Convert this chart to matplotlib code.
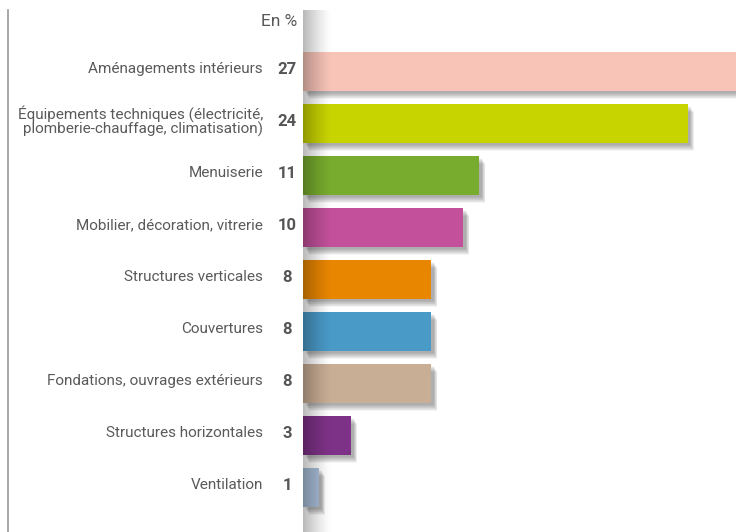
import matplotlib.pyplot as plt
import matplotlib.transforms as mtransforms
import numpy as np

plt.rcParams['font.family'] = ['Roboto', 'DejaVu Sans']

categories = ['Aménagements intérieurs',
              'Équipements techniques (électricité,\nplomberie-chauffage, climatisation)',
              'Menuiserie',
              'Mobilier, décoration, vitrerie',
              'Structures verticales',
              'Couvertures',
              'Fondations, ouvrages extérieurs',
              'Structures horizontales',
              'Ventilation']
values = [27, 24, 11, 10, 8, 8, 8, 3, 1]
colors = ['#F8C4B8', '#C8D400', '#78AC2E', '#C2509A', '#E88600',
          '#4A9AC8', '#C9AE96', '#7E3287', '#A8BED8']

W, H = 736, 532
fig = plt.figure(figsize=(W / 100, H / 100), dpi=100)
fig.patch.set_facecolor('white')

# bars axes: starts at the white panel edge, runs to the right border
ax = fig.add_axes([303 / W, 0, 1 - 303 / W, 1])
ax.set_xlim(0, 27)
pitch = 52.0
ax.set_ylim((H - 71.5) / pitch, -71.5 / pitch)
ax.axis('off')

y = np.arange(len(values))
h = 39 / pitch

# soft drop shadow under each bar
for k in range(10):
    off = (k + 1) * 0.012
    ax.barh(y + off + 0.03, values, height=h, left=0.15 + k * 0.025,
            color='black', alpha=0.035, linewidth=0, zorder=1)
ax.barh(y, values, height=h, color=colors, linewidth=0, zorder=3)

# shadow of the white panel falling onto the bars
grad = np.linspace(0.28, 0, 64) ** 1.3
rgba = np.zeros((1, 64, 4))
rgba[0, :, 3] = grad / grad.max() * 0.28
ax.imshow(rgba, extent=[0, 0.065, 0, 1 - 10 / H], transform=ax.transAxes,
          aspect='auto', zorder=4, interpolation='bilinear')

# thin grey rule on the far left
fig.add_artist(plt.Line2D([8 / W, 8 / W], [0, 1 - 10 / H],
                          transform=fig.transFigure, color='#9a9a9a', lw=1.2))

trans = mtransforms.blended_transform_factory(fig.transFigure, ax.transData)
for i, (cat, v) in enumerate(zip(categories, values)):
    ax.text(263 / W, i - 0.045, cat, transform=trans, ha='right', va='center',
            fontsize=11, color='#5a5a5a', linespacing=1.0, clip_on=False)
    ax.text(287 / W, i - 0.03, str(v), transform=trans, ha='center', va='center',
            fontsize=12, fontweight='bold', color='#555555', clip_on=False)

fig.text(297 / W, 1 - 21 / H, 'En %', ha='right', va='center',
         fontsize=12.5, color='#5a5a5a')

fig.savefig('out.png', dpi=100, facecolor='white')
